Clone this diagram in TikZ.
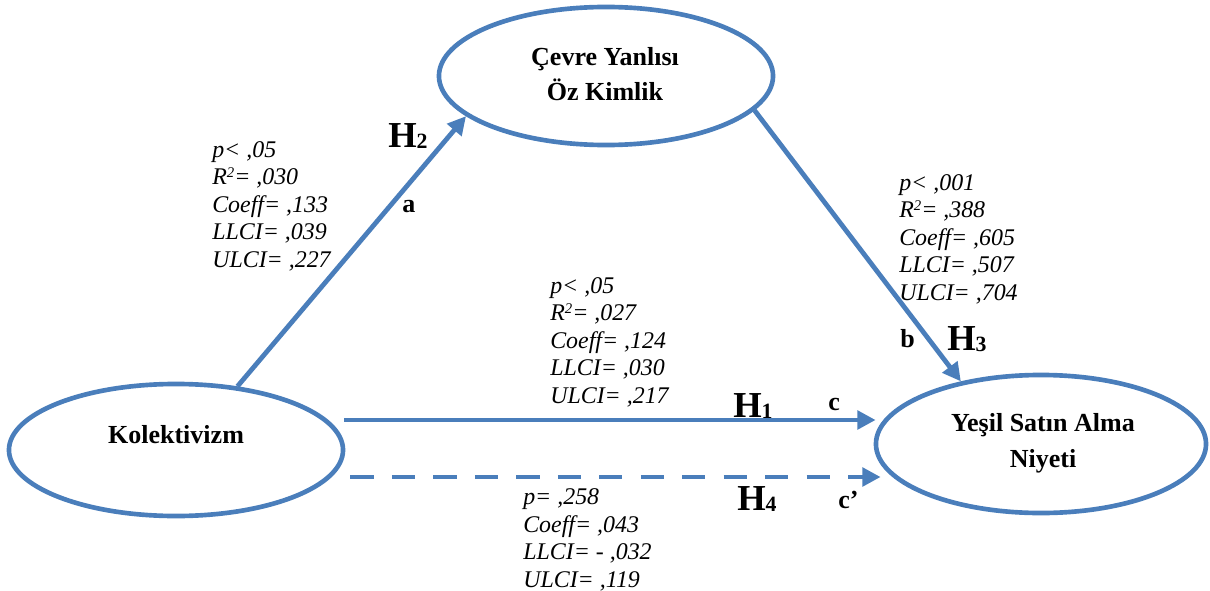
\documentclass[tikz,border=0pt]{standalone}
\usepackage{fontspec}
\setmainfont{Liberation Serif}
\usetikzlibrary{arrows.meta,shapes.geometric,calc}
\definecolor{pathblue}{RGB}{74,126,187}
% R with a raised 2
\newcommand\Rsquared{R\raisebox{5.5pt}{\fontsize{10.5}{10.5}\selectfont 2}}
% hypothesis label with lowered index
\newcommand\hypo[1]{H\raisebox{-1.2pt}{\fontsize{15.5}{15.5}\selectfont #1}}

\begin{document}
\begin{tikzpicture}[x=0.025cm,y=-0.025cm,
  construct/.style={ellipse, draw=pathblue, line width=3.3pt, inner sep=0pt},
  link/.style={draw=pathblue, line width=3.4pt, -{Triangle[length=13pt,width=13pt]}},
  nodetext/.style={font=\fontsize{18.5}{25.5}\selectfont\bfseries, align=center, inner sep=0pt},
  stats/.style={font=\fontsize{17}{19.5}\selectfont\itshape, align=left, anchor=base west, inner sep=0pt},
  hyp/.style={font=\fontsize{26}{26}\selectfont\bfseries, anchor=base west, inner sep=0pt},
  pathlbl/.style={font=\fontsize{18.5}{18.5}\selectfont\bfseries, anchor=base west, inner sep=0pt}]

\useasboundingbox (0,0) rectangle (1210,591);

% constructs
\node[construct, minimum width=8.35cm, minimum height=3.3cm]  (kol) at (176,450) {};
\node[construct, minimum width=8.35cm, minimum height=3.45cm] (cev) at (606,76) {};
\node[construct, minimum width=8.25cm, minimum height=3.45cm] (yes) at (1041,444) {};

% construct names (base anchor sits on the last line)
\node[nodetext, anchor=base] (kolT) at (176,443) {Kolektivizm};
\node[nodetext, anchor=base] (cevT) at (605,101) {Çevre Yanlısı\\Öz Kimlik};
\node[nodetext, anchor=base] (yesT) at (1043,467) {Yeşil Satın Alma\\Niyeti};

% paths
\draw[link] (kol.46.8) -- (cev.196.2);
\draw[link] (cev.347.1) -- (yes.142.7);
\draw[link] ($(kol.east)+(-1,-30)$) -- ($(yes.west)+(2,-24)$);
\draw[link, dash pattern=on 16.5pt off 13pt] ($(kol.east)+(5,27)$) -- ($(yes.west)+(7,33)$);

% hypothesis and path labels
\node[hyp] (h2) at (388,147) {\hypo{2}};
\node[hyp] (h1) at (733,417) {\hypo{1}};
\node[hyp] (h3) at (947,350) {\hypo{3}};
\node[hyp] (h4) at (737,510) {\hypo{4}};
\node[pathlbl] (la) at (402,212) {a};
\node[pathlbl] (lb) at (900,347) {b};
\node[pathlbl] (lc) at (828,410) {c};
\node[pathlbl] (lcp) at (838,508) {c’};

% statistics (base anchor sits on the last line)
\node[stats] (sa) at (212,267) {p< ,05\\\Rsquared= ,030\\Coeff= ,133\\LLCI= ,039\\ULCI= ,227};
\node[stats] (sc) at (550,403) {p< ,05\\\Rsquared= ,027\\Coeff= ,124\\LLCI= ,030\\ULCI= ,217};
\node[stats] (sb) at (899,300) {p< ,001\\\Rsquared= ,388\\Coeff= ,605\\LLCI= ,507\\ULCI= ,704};
\node[stats] (sd) at (523,587) {p= ,258\\Coeff= ,043\\LLCI= - ,032\\ULCI= ,119};
\end{tikzpicture}
\end{document}
